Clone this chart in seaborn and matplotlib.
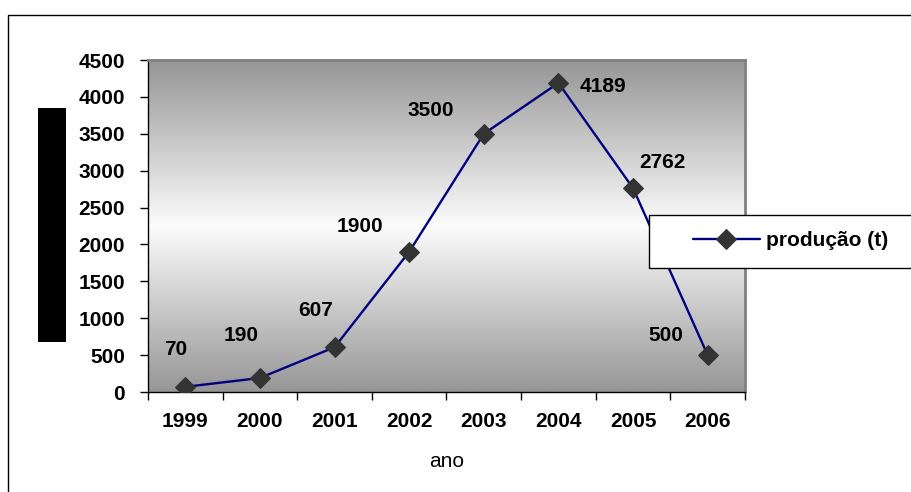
import numpy as np
import pandas as pd
import matplotlib
matplotlib.use("Agg")
import matplotlib.pyplot as plt
from matplotlib.colors import LinearSegmentedColormap
from matplotlib.patches import Rectangle
import seaborn as sns

years = ["1999", "2000", "2001", "2002", "2003", "2004", "2005", "2006"]
producao = [70, 190, 607, 1900, 3500, 4189, 2762, 500]
y_ticks = [0, 500, 1000, 1500, 2000, 2500, 3000, 3500, 4000, 4500]
series_name = "produção (t)"
x_title = "ano"

# label offsets in pixels relative to each point
label_offsets = [(-10, 37), (-19, 42), (-19, 36.5), (-49, 25), (-53, 23.5),
                 (45, -3.5), (29, 25.5), (-42, 20)]

sns.set_theme(style="white")
plt.rcParams["font.family"] = ["Liberation Sans", "DejaVu Sans"]

W, H = 912, 492
FS = 15
fig = plt.figure(figsize=(W / 100, H / 100), dpi=100)
fig.patch.set_facecolor("white")


def fx(px):
    return px / W


def fy(py):
    return 1 - py / H


ax = fig.add_axes([fx(148), fy(392), fx(745) - fx(148), fy(60) - fy(392)])

df = pd.DataFrame({"pos": np.arange(len(years)), "valor": producao})

# gray-white-gray vertical gradient background
cmap = LinearSegmentedColormap.from_list("g", ["#969696", "#fcfcfc", "#969696"])
grad = np.linspace(0, 1, 256).reshape(-1, 1)
ax.imshow(grad, cmap=cmap, aspect="auto", extent=(-0.5, 7.5, 0, 4500),
          origin="upper", zorder=0)

sns.lineplot(data=df, x="pos", y="valor", ax=ax, color="#000080", lw=1.7,
             marker="D", markersize=10, markerfacecolor="#333333",
             markeredgecolor="#333333", label=series_name, zorder=3)

ax.set_xlim(-0.5, 7.5)
ax.set_ylim(0, 4500)
ax.set_yticks(y_ticks)
ax.set_yticklabels([str(v) for v in y_ticks], fontsize=FS, fontweight="bold")
ax.set_xticks(np.arange(len(years)))
ax.set_xticklabels(years, fontsize=FS, fontweight="bold")
ax.set_xticks(np.arange(-0.5, 8, 1), minor=True)
ax.tick_params(axis="x", which="major", length=0, pad=14.5, labelcolor="black")
ax.tick_params(axis="x", which="minor", length=6, width=1, color="black",
               direction="out", bottom=True)
ax.tick_params(axis="y", length=6, width=1, color="black", pad=10.5,
               direction="out", left=True, labelcolor="black")
ax.set_xlabel(x_title, fontsize=FS, labelpad=15, color="black")
ax.set_ylabel("")
ax.grid(False)

for side in ["top", "right"]:
    ax.spines[side].set_color("#808080")
    ax.spines[side].set_linewidth(2)
for side in ["left", "bottom"]:
    ax.spines[side].set_color("black")
    ax.spines[side].set_linewidth(1)

for i, (v, off) in enumerate(zip(producao, label_offsets)):
    ax.annotate(str(v), (i, v), xytext=off, textcoords="offset pixels",
                ha="center", va="center", fontsize=FS, fontweight="bold",
                color="black", zorder=5)

# legend box
handles, labels = ax.get_legend_handles_labels()
ax.get_legend().remove()
fig.patches.append(Rectangle((fx(649), fy(268)), fx(920) - fx(649),
                             fy(215) - fy(268), transform=fig.transFigure,
                             facecolor="white", edgecolor="black", lw=1,
                             zorder=10))
leg = fig.legend(handles, labels, loc="center left",
                 bbox_to_anchor=(fx(693), fy(241)), frameon=False,
                 borderaxespad=0, borderpad=0,
                 handlelength=3.2, handletextpad=0.3,
                 prop={"size": FS, "weight": "bold"}, labelcolor="black")
leg.set_zorder(11)

# outer chart frame
fig.patches.append(Rectangle((fx(8), fy(500)), fx(930) - fx(8),
                             fy(15) - fy(500), transform=fig.transFigure,
                             facecolor="none", edgecolor="black", lw=1))

# solid block at the left of the value axis
fig.patches.append(Rectangle((fx(38), fy(342)), fx(66) - fx(38),
                             fy(108) - fy(342), transform=fig.transFigure,
                             facecolor="black", edgecolor="none", zorder=9))

fig.savefig("out.png", dpi=100)
